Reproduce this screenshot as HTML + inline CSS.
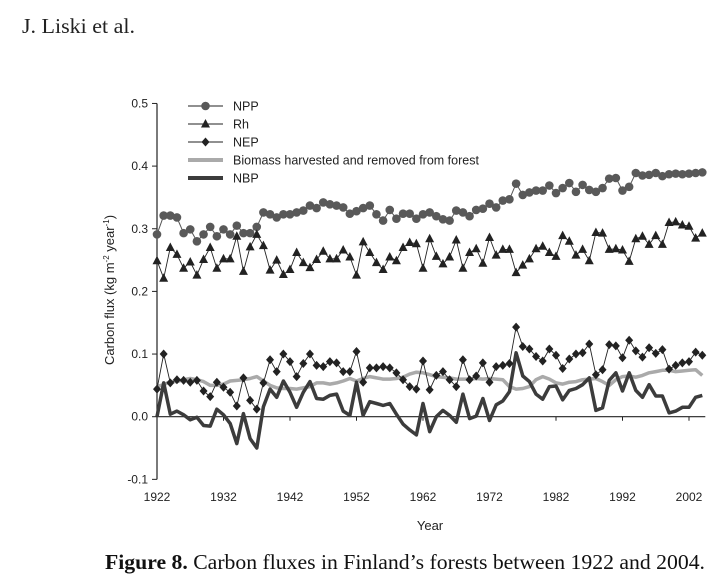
<!DOCTYPE html>
<html><head><meta charset="utf-8"><style>
body{margin:0;background:#fff;}
#wrap{position:relative;width:726px;height:586px;overflow:hidden;background:#fff;}
svg text{font-family:"Liberation Sans",Arial,sans-serif;}
</style></head><body>
<div id="wrap">
<svg id="chart" width="726" height="586" viewBox="0 0 726 586">
<text x="22" y="33" textLength="113" lengthAdjust="spacingAndGlyphs" font-size="21" style="font-family:'Liberation Serif',serif" fill="#222">J. Liski et al.</text>
<g id="axes"></g>
<g id="series"></g>
<g id="legend"></g>
<text x="430" y="530" font-size="13" text-anchor="middle" fill="#222">Year</text>
<text transform="translate(114,290) rotate(-90)" font-size="13" text-anchor="middle" fill="#222">Carbon flux (kg m<tspan font-size="8" dy="-5">-2</tspan><tspan dy="5"> year</tspan><tspan font-size="8" dy="-5">-1</tspan><tspan dy="5">)</tspan></text>
<text x="105" y="569" textLength="600" lengthAdjust="spacingAndGlyphs" font-size="21" style="font-family:'Liberation Serif',serif" fill="#111"><tspan font-weight="bold">Figure 8.</tspan> Carbon fluxes in Finland’s forests between 1922 and 2004.</text>
</svg>
</div>
<script>
const years = [];
for (let y = 1922; y <= 2004; y++) years.push(y);
const yTicks = [0.5, 0.4, 0.3, 0.2, 0.1, 0.0, -0.1];
const yTickLabels = ["0.5","0.4","0.3","0.2","0.1","0.0","-0.1"];
const xTicks = [1922,1932,1942,1952,1962,1972,1982,1992,2002];
const npp = [.291,.321,.321,.318,.293,.299,.280,.291,.303,.288,.299,.291,.305,.293,.293,.303,.326,.323,.318,.323,.323,.326,.329,.337,.333,.342,.339,.337,.334,.324,.328,.333,.337,.323,.313,.330,.316,.324,.324,.316,.323,.326,
.320,.315,.313,.329,.326,.320,.330,.332,.340,.334,.345,.347,.372,.354,.358,.361,.361,.369,.357,.365,.373,.359,.370,.362,.359,.365,.380,.381,.361,.367,.389,.385,.386,.389,.384,.387,.388,.387,.388,.389,.390];
const rh = [.249,.221,.270,.259,.237,.247,.226,.251,.270,.237,.252,.252,.288,.232,.271,.291,.273,.234,.250,.227,.235,.262,.246,.238,.251,.264,.252,.252,.266,.255,.226,.279,.262,.246,.235,.255,.249,.270,.278,.276,.237,.284,
.256,.244,.255,.282,.237,.262,.268,.245,.286,.258,.267,.267,.230,.242,.252,.268,.272,.262,.256,.289,.280,.258,.267,.249,.294,.293,.267,.268,.266,.248,.284,.288,.275,.289,.275,.310,.311,.306,.304,.285,.293];
const nep = [.044,.100,.054,.059,.058,.055,.058,.041,.032,.055,.047,.039,.017,.062,.026,.012,.054,.091,.072,.100,.088,.064,.085,.100,.082,.080,.088,.086,.072,.072,.104,.055,.078,.078,.080,.078,.070,.059,.048,.044,.089,.043,
.066,.072,.059,.048,.091,.059,.065,.086,.055,.080,.082,.085,.143,.112,.108,.096,.089,.108,.098,.077,.092,.100,.102,.116,.067,.075,.115,.113,.094,.122,.105,.095,.110,.101,.107,.076,.082,.086,.088,.103,.098];
const biomass = [.048,.051,.056,.056,.059,.061,.059,.056,.050,.050,.052,.057,.058,.059,.061,.064,.057,.050,.046,.045,.045,.044,.046,.048,.054,.054,.052,.054,.057,.061,.057,.061,.064,.062,.060,.060,.061,.063,.068,.071,.070,.067,
.064,.063,.062,.060,.060,.060,.061,.060,.061,.060,.059,.048,.044,.045,.048,.059,.064,.060,.054,.052,.055,.056,.059,.060,.061,.056,.050,.059,.064,.065,.063,.066,.070,.072,.074,.074,.072,.073,.074,.075,.066];
const nbp = [0,.054,.004,.009,.003,-.005,-.001,-.014,-.015,.012,.003,-.011,-.043,.005,-.035,-.050,.016,.044,.031,.057,.039,.015,.039,.056,.029,.028,.034,.036,.009,.002,.055,.002,.024,.021,.018,.021,.004,-.012,-.021,-.029,.021,-.024,
0,.010,.002,-.009,.036,-.003,.001,.029,-.006,.019,.025,.040,.102,.065,.056,.036,.028,.048,.049,.027,.042,.045,.051,.062,.010,.014,.058,.070,.041,.070,.042,.031,.051,.033,.033,.006,.009,.015,.015,.031,.034];

const NS = "http://www.w3.org/2000/svg";
const X0 = 157, PXY = 6.65, Y0 = 416.7, PXV = 626.5;
function xs(yr){ return X0 + (yr - 1922) * PXY; }
function ys(v){ return Y0 - v * PXV; }
function mk(tag, attrs, parent){ const e = document.createElementNS(NS, tag); for (const k in attrs) e.setAttribute(k, attrs[k]); parent.appendChild(e); return e; }
const axes = document.getElementById('axes');
const ser = document.getElementById('series');
const leg = document.getElementById('legend');

let a = mk('line',{x1:X0,x2:X0,y1:ys(0.5),y2:ys(-0.1),stroke:'#222','stroke-width':1.2},axes);


a = mk('line',{x1:X0,x2:xs(2004)+3,y1:Y0,y2:Y0,stroke:'#222','stroke-width':1.2},axes);


yTicks.forEach((v,i)=>{
  const t = mk('line',{x1:X0-5,x2:X0,y1:ys(v),y2:ys(v),stroke:'#222'},axes);
  
  
  const l = mk('text',{x:X0-9,y:ys(v)+4,'font-size':12,'text-anchor':'end',fill:'#222'},axes);
  l.textContent = yTickLabels[i];
  
  
});
xTicks.forEach(yr=>{
  const t = mk('line',{x1:xs(yr),x2:xs(yr),y1:Y0,y2:Y0+4,stroke:'#222'},axes);
  
  
  const l = mk('text',{x:xs(yr),y:501,'font-size':12,'text-anchor':'middle',fill:'#222'},axes);
  l.textContent = String(yr);
  
  
});
function pts(arr){ return arr.map((v,i)=>xs(years[i]).toFixed(1)+','+ys(v).toFixed(1)).join(' '); }
function line(arr,color,w,name){
  const p = mk('polyline',{points:pts(arr),fill:'none',stroke:color,'stroke-width':w,'stroke-linejoin':'round'},ser);
  
  
}
line(biomass,'#aaaaaa',3.5,'biomass-line');
line(nbp,'#3c3c3c',3.5,'nbp-line');
line(npp,'#555',1,'npp-line');
line(rh,'#222',0.9,'rh-line');
line(nep,'#222',0.9,'nep-line');
function circle(x,y,g){ return mk('circle',{cx:x,cy:y,r:4.3,fill:'#595959'},g); }
function tri(x,y,g){ return mk('polygon',{points:`${x},${y-5} ${x-4.5},${y+3.5} ${x+4.5},${y+3.5}`,fill:'#222'},g); }
function dia(x,y,g){ return mk('polygon',{points:`${x},${y-4.5} ${x+4},${y} ${x},${y+4.5} ${x-4},${y}`,fill:'#222'},g); }
npp.forEach((v,i)=>{ const m=circle(xs(years[i]),ys(v),ser);
  
   });
rh.forEach((v,i)=>{ const m=tri(xs(years[i]),ys(v),ser);
  
   });
nep.forEach((v,i)=>{ const m=dia(xs(years[i]),ys(v),ser);
  
   });

const legItems = [
 {label:'NPP',y:106,type:'c'},{label:'Rh',y:124,type:'t'},{label:'NEP',y:142,type:'d'},
 {label:'Biomass harvested and removed from forest',y:160,type:'b'},{label:'NBP',y:178,type:'n'}];
legItems.forEach(it=>{
  const g = mk('g',{},leg);
  
  
  if (it.type==='b') mk('line',{x1:188,x2:223,y1:it.y,y2:it.y,stroke:'#aaa','stroke-width':4},g);
  else if (it.type==='n') mk('line',{x1:188,x2:223,y1:it.y,y2:it.y,stroke:'#3c3c3c','stroke-width':4},g);
  else { mk('line',{x1:188,x2:223,y1:it.y,y2:it.y,stroke:'#222','stroke-width':1},g);
    if(it.type==='c') circle(205.5,it.y,g); else if(it.type==='t') tri(205.5,it.y,g); else dia(205.5,it.y,g); }
  const t = mk('text',{x:233,y:it.y+4.5,'font-size':12.5,fill:'#222'},g);
  t.textContent = it.label;
});
</script>
</body></html>
